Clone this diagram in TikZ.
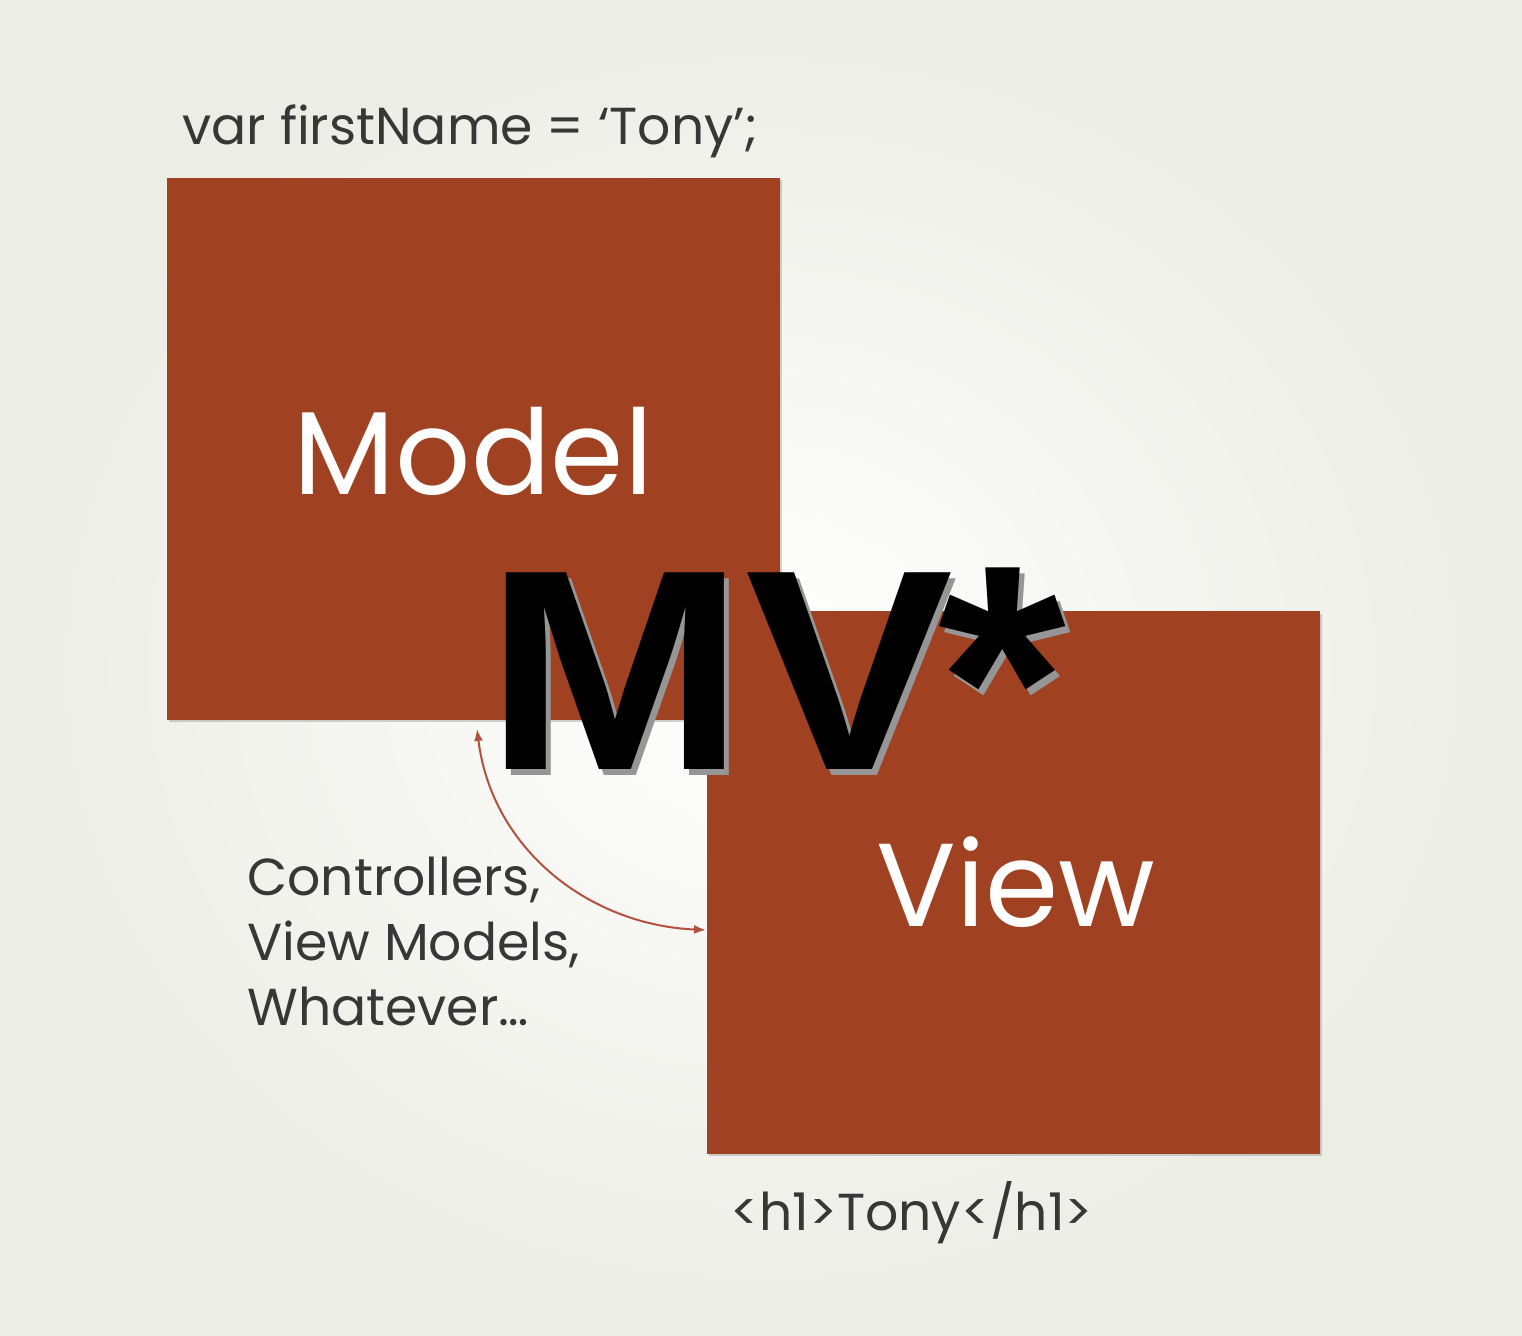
\documentclass[tikz,border=0pt]{standalone}
\usepackage{fontspec}
\setmainfont{Poppins}
\newfontfamily\mvfont{Liberation Sans}
\usetikzlibrary{arrows.meta,shadows}
\definecolor{rust}{RGB}{160,66,34}
\definecolor{notegray}{RGB}{55,55,55}
\definecolor{linkred}{RGB}{178,82,62}
\definecolor{bgedge}{RGB}{236,237,229}
\definecolor{mvshadow}{RGB}{150,150,150}
\begin{document}
\begin{tikzpicture}[x=0.5pt,y=-0.5pt,
  box/.style={fill=rust, minimum width=306.5pt, minimum height=271pt, inner sep=0pt,
    drop shadow={shadow xshift=0.8pt, shadow yshift=-1.2pt, opacity=0.35}},
  boxlabel/.style={text=white, font=\fontsize{59}{60}\selectfont, anchor=base, inner sep=0pt},
  note/.style={text=notegray, font=\fontsize{26}{32.5}\selectfont, anchor=base west, align=left, inner sep=0pt},
  mv/.style={font=\mvfont\bfseries\fontsize{143}{143}\selectfont, anchor=base west, inner sep=0pt},
  star/.style={font=\mvfont\bfseries\fontsize{164}{164}\selectfont, anchor=north west, inner sep=0pt},
  link/.style={draw=linkred, line width=1pt, {Latex[length=6pt,width=4.5pt]}-{Latex[length=6pt,width=4.5pt]}}]
\useasboundingbox (0,0) rectangle (1522,1336);
\shade[inner color=white, outer color=bgedge] (0,0) rectangle (1522,1336);

\node[box] (model) at (473.5,449) {};
\node[box] (view) at (1013.5,882.5) {};
\node[boxlabel] (modellbl) at (473.5,495) {Model};
\node[boxlabel] (viewlbl) at (1016,927) {View};

\node[note] (code) at (182,145) {var firstName = ‘Tony’;};
\node[note] (ctrl) at (247,895) {Controllers,};
\node[note] (vm) at (247,960) {View Models,};
\node[note] (what) at (247,1025) {Whatever…};
\node[note] (html) at (730,1230) {<h1>Tony</h1>};

\coordinate (a1) at (477,729);
\coordinate (a2) at (706,930);
\draw[link] (a1) .. controls (492,850) and (590,925) .. (a2);

\node[mv, text=mvshadow] (mvsh) at (490,776) {\scalebox{1.09}[1]{MV}};
\node[mv, text=black] (mv) at (485,770) {\scalebox{1.09}[1]{MV}};
\node[star, text=mvshadow] (starsh) at (943,573) {*};
\node[star, text=black] (star) at (938,567) {*};
\end{tikzpicture}
\end{document}
